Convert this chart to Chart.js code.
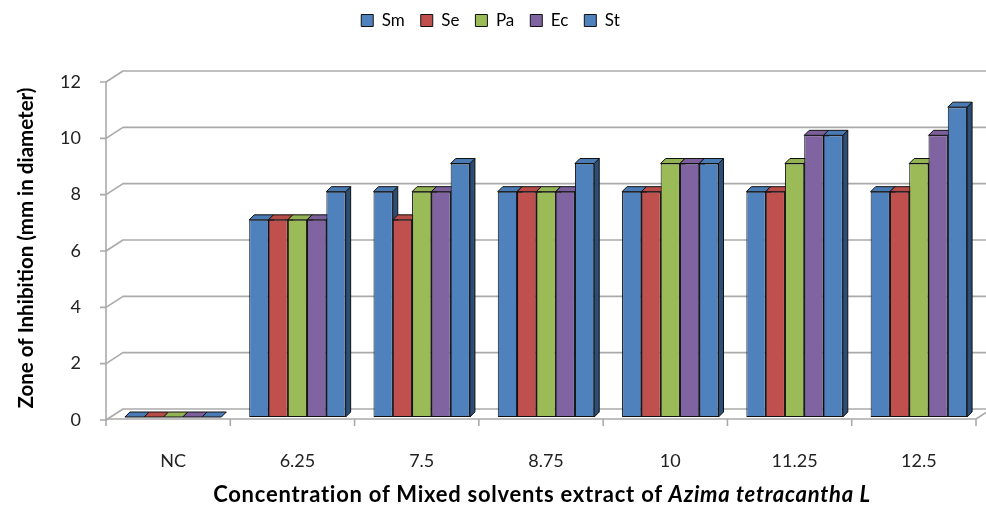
<!DOCTYPE html>
<html><head><meta charset="utf-8">
<script src="https://cdn.jsdelivr.net/npm/chart.js@4/dist/chart.umd.min.js"></script>
<style>
html,body{margin:0;padding:0;background:#fff;}
#wrap{position:relative;width:986px;height:509px;overflow:hidden;}
#xtitle{position:absolute;left:542px;top:480px;transform:translateX(-50%);white-space:nowrap;font:bold 22px Lato,sans-serif;letter-spacing:0.75px;color:#000;line-height:normal;}
</style></head>
<body><div id="wrap"><canvas id="c" width="986" height="509"></canvas>
<div id="xtitle">Concentration of Mixed solvents extract of <i>Azima tetracantha L</i></div>
</div>
<script>
const categories = ['NC', '6.25', '7.5', '8.75', '10', '11.25', '12.5'];
const seriesNames = ['Sm', 'Se', 'Pa', 'Ec', 'St'];
const smValues = [0, 7, 8, 8, 8, 8, 8];
const seValues = [0, 7, 7, 8, 8, 8, 8];
const paValues = [0, 7, 8, 8, 9, 9, 9];
const ecValues = [0, 7, 8, 8, 9, 10, 10];
const stValues = [0, 8, 9, 9, 9, 10, 11];
const yTickValues = [0, 2, 4, 6, 8, 10, 12];

const frontColors = ['#4F81BD', '#C0504D', '#9BBB59', '#8064A2', '#4F81BD'];
const sideColors  = ['#2C4D75', '#772C2A', '#5F7530', '#4D3B62', '#2C4D75'];
const topColors   = ['#4A7AB3', '#B64B48', '#93B254', '#7A5F9A', '#4A7AB3'];
const allValues = [smValues, seValues, paValues, ecValues, stValues];

// 3D geometry (pixels, relative to the bar front plane)
const DEPTH_X = 5, DEPTH_Y = -5;      // bar depth
const AXIS_DX = -5, AXIS_DY = 3;      // front axis plane
const WALL_DX = 12, WALL_DY = -8;     // back wall plane
const GRID = '#aaaaaa';
const LEGEND_GAP = 40;

const threeD = {
  id: 'threeD',
  afterInit(chart) {
    const lg = chart.legend;
    if (lg && !lg._patched) {
      const fit = lg.fit;
      lg.fit = function () { fit.call(this); this.height += LEGEND_GAP; };
      lg._patched = true;
    }
  },
  beforeDatasetsDraw(chart) {
    const ctx = chart.ctx;
    const xs = chart.scales.x, ys = chart.scales.y;
    const W = chart.width;
    const axL = xs.left + AXIS_DX, axR = xs.right + AXIS_DX;
    const wallL = xs.left + WALL_DX;
    ctx.save();
    ctx.strokeStyle = GRID;
    ctx.lineWidth = 1.6;
    ctx.lineJoin = 'round';
    yTickValues.forEach(v => {
      const yb = ys.getPixelForValue(v);
      ctx.beginPath();
      ctx.moveTo(axL - 6, yb + AXIS_DY);
      ctx.lineTo(axL, yb + AXIS_DY);
      ctx.lineTo(wallL, yb + WALL_DY);
      ctx.lineTo(W + 5, yb + WALL_DY);
      ctx.stroke();
    });
    const y0 = ys.getPixelForValue(0), yTop = ys.getPixelForValue(12);
    ctx.beginPath();
    ctx.moveTo(axL, yTop + AXIS_DY);
    ctx.lineTo(axL, y0 + AXIS_DY + 1);
    ctx.stroke();
    const fy = y0 + AXIS_DY - 1;
    ctx.beginPath();
    ctx.moveTo(axL, fy);
    ctx.lineTo(axR, fy);
    ctx.lineTo(axR + (WALL_DX - AXIS_DX), fy + (WALL_DY - AXIS_DY));
    ctx.stroke();
    const n = categories.length;
    const cw = (xs.right - xs.left) / n;
    for (let i = 0; i <= n; i++) {
      const x = axL + i * cw;
      ctx.beginPath();
      ctx.moveTo(x, fy);
      ctx.lineTo(x, fy + 7);
      ctx.stroke();
    }
    ctx.strokeStyle = '#111';
    ctx.lineWidth = 1;
    const faces = [];
    chart.data.datasets.forEach((d, di) => {
      chart.getDatasetMeta(di).data.forEach(el => {
        const p = el.getProps(['x', 'y', 'base', 'width'], true);
        faces.push({di, l: p.x - p.width / 2, r: p.x + p.width / 2, t: Math.min(p.y, p.base), b: Math.max(p.y, p.base)});
      });
    });
    faces.forEach(f => {
      if (f.b - f.t < 0.5) return;
      ctx.beginPath();
      ctx.moveTo(f.r, f.t);
      ctx.lineTo(f.r + DEPTH_X, f.t + DEPTH_Y);
      ctx.lineTo(f.r + DEPTH_X, f.b + DEPTH_Y);
      ctx.lineTo(f.r, f.b);
      ctx.closePath();
      ctx.fillStyle = sideColors[f.di];
      ctx.fill();
      ctx.stroke();
    });
    faces.forEach(f => {
      ctx.beginPath();
      ctx.moveTo(f.l, f.t);
      ctx.lineTo(f.r, f.t);
      ctx.lineTo(f.r + DEPTH_X, f.t + DEPTH_Y);
      ctx.lineTo(f.l + DEPTH_X, f.t + DEPTH_Y);
      ctx.closePath();
      ctx.fillStyle = topColors[f.di];
      ctx.fill();
      ctx.stroke();
    });
    ctx.restore();
  }
};

const datasets = seriesNames.map((name, i) => ({
  label: name,
  data: allValues[i],
  backgroundColor: frontColors[i],
  borderColor: '#111',
  borderWidth: 1,
  borderSkipped: false,
  barPercentage: 1,
  categoryPercentage: 0.776
}));

new Chart(document.getElementById('c'), {
  type: 'bar',
  data: { labels: categories, datasets },
  plugins: [threeD],
  options: {
    responsive: false,
    animation: false,
    layout: { padding: { top: -4, left: 0, right: 5, bottom: 0 } },
    plugins: {
      legend: {
        position: 'top',
        labels: {
          boxWidth: 12, boxHeight: 12, padding: 16,
          color: '#000',
          font: { family: 'Lato', size: 17 }
        }
      },
      tooltip: { enabled: false }
    },
    scales: {
      x: {
        grid: { display: false, drawTicks: false },
        border: { display: false },
        ticks: { color: '#222', padding: 33, font: { family: 'Lato', size: 18 } },
        afterFit(scale) { scale.height = 92; }
      },
      y: {
        min: 0, max: 12,
        grid: { display: false, drawTicks: false },
        border: { display: false },
        ticks: { stepSize: 2, color: '#222', padding: 30, labelOffset: 3, font: { family: 'Lato', size: 18 } },
        title: { display: true, text: 'Zone of Inhibition (mm in diameter)', color: '#000', padding: { top: 14, bottom: 0 }, font: { family: 'Lato', size: 20.5, weight: 'bold' } },
        afterFit(scale) { scale.width = 111; }
      }
    }
  }
});
</script>
</body></html>
